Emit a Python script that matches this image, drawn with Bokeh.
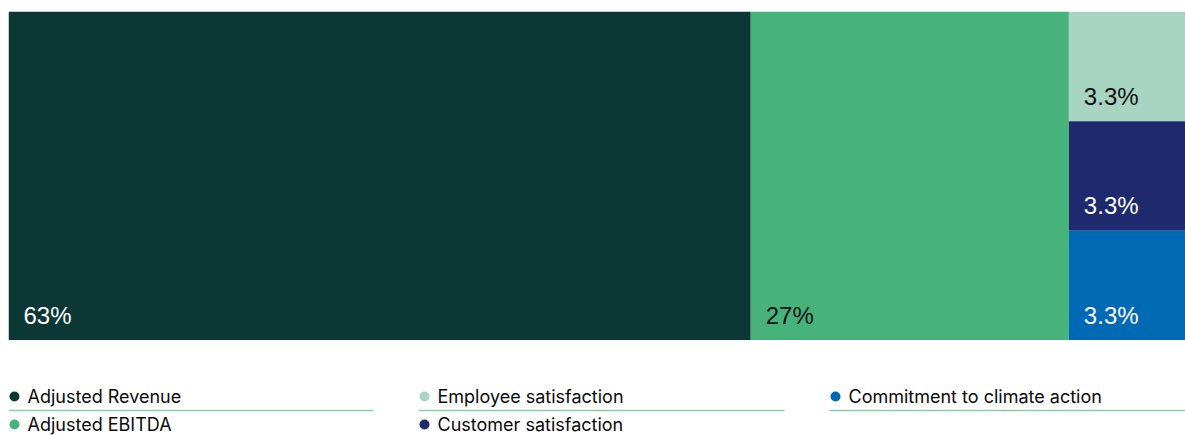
from bokeh.plotting import figure
from bokeh.models import Range1d, ColumnDataSource
from bokeh.layouts import column
from bokeh.core.properties import value
from bokeh.embed import file_html
from bokeh.resources import INLINE

# Data
categories = ["Adjusted Revenue", "Adjusted EBITDA", "Employee satisfaction",
              "Customer satisfaction", "Commitment to climate action"]
weights = [63, 27, 3.3, 3.3, 3.3]
labels = ["63%", "27%", "3.3%", "3.3%", "3.3%"]
colors = ["#0b3735", "#48b27b", "#a8d5c2", "#1f2a6e", "#0069b4"]
label_colors = ["white", "#111111", "#111111", "white", "white"]

# Treemap layout: first two as full-height columns, the three small ones stacked
total = sum(weights)
small = weights[2:]
small_sum = sum(small)
left, right, bottom, top = [], [], [], []
x = 0.0
for w in weights[:2]:
    left.append(x); right.append(x + w); bottom.append(0.0); top.append(1.0)
    x += w
y = 1.0
for w in small:
    h = w / small_sum
    left.append(x); right.append(total); top.append(y); bottom.append(y - h)
    y -= h

src = ColumnDataSource(dict(left=left, right=right, bottom=bottom, top=top,
                            color=colors, label=labels, lcolor=label_colors))

p = figure(width=1185, height=340, output_backend="svg", toolbar_location=None,
           x_range=Range1d(0, total), y_range=Range1d(0, 1),
           x_axis_location=None, y_axis_location=None, min_border=0,
           min_border_left=8, min_border_right=0, min_border_top=11, min_border_bottom=0)
p.grid.visible = False
p.outline_line_color = None
p.quad(left="left", right="right", bottom="bottom", top="top", source=src,
       fill_color="color", line_color=None)
p.text(x="left", y="bottom", text="label", source=src, text_color="lcolor",
       text_font=value("Liberation Sans"), text_font_size="24px",
       x_offset=15, y_offset=-25, text_baseline="alphabetic")

# Legend (frame aligned with the treemap frame: pixel-like coordinates 8..1185)
leg = figure(width=1185, height=95, output_backend="svg", toolbar_location=None,
             x_range=Range1d(8, 1185), y_range=Range1d(95, 0),
             x_axis_location=None, y_axis_location=None, min_border=0,
             min_border_left=8, min_border_right=0, min_border_top=0, min_border_bottom=0)
leg.grid.visible = False
leg.outline_line_color = None

col_x = [8, 418, 829]
col_w = [365, 366, 356]
row_y = [56, 84]
lx, ly, lc, ln = [], [], [], []
for i, name in enumerate(categories):
    c = i // 2
    r = i % 2
    lx.append(col_x[c]); ly.append(row_y[r]); lc.append(colors[i]); ln.append(name)
dot_x = [v + 6 for v in lx]
lsrc = ColumnDataSource(dict(x=lx, dx=dot_x, y=ly, color=lc, name=ln))
leg.scatter(x="dx", y="y", source=lsrc, size=10, fill_color="color", line_color=None)
leg.text(x="x", y="y", text="name", source=lsrc, text_color="#0a0a0a",
         text_font=value("Inter"), text_font_size="18px", text_baseline="middle",
         x_offset=19)
leg.segment(x0=col_x, y0=[70] * 3, x1=[cx + w for cx, w in zip(col_x, col_w)], y1=[70] * 3,
            line_color="#86d0a6", line_width=1.5)

layout = column(p, leg, spacing=0)
open("out.html", "w").write(file_html(layout, INLINE))
